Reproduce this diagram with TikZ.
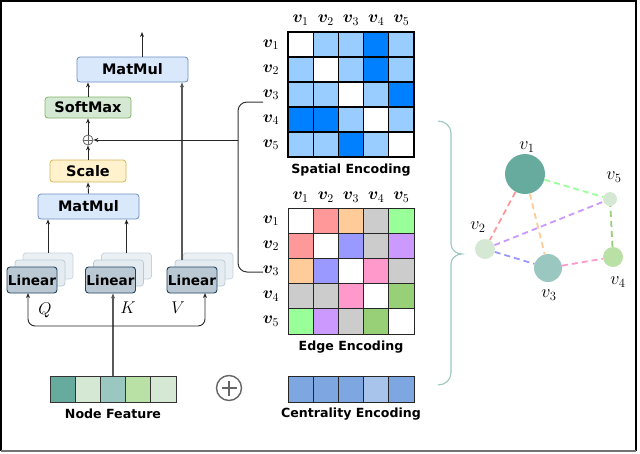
\documentclass[tikz,border=0pt]{standalone}
\usepackage{fix-cm}
\usepackage{fontspec}
\setsansfont{DejaVu Sans}
\usepackage{bm}
\usetikzlibrary{arrows.meta}
\definecolor{cW}{HTML}{FFFFFF}
\definecolor{cL}{HTML}{99CCFF}
\definecolor{cD}{HTML}{007FFF}
\definecolor{cR}{HTML}{FF9999}
\definecolor{cO}{HTML}{FFCC99}
\definecolor{cG}{HTML}{CCCCCC}
\definecolor{cN}{HTML}{99FF99}
\definecolor{cB}{HTML}{9999FF}
\definecolor{cP}{HTML}{CC99FF}
\definecolor{cK}{HTML}{FF99CC}
\definecolor{cE}{HTML}{97D077}
\definecolor{tA}{HTML}{67AB9F}
\definecolor{tB}{HTML}{D5E8D4}
\definecolor{tC}{HTML}{9AC7BF}
\definecolor{tD}{HTML}{B9E0A5}
\definecolor{zA}{HTML}{7EA6E0}
\definecolor{zB}{HTML}{A9C4EB}
\definecolor{bluefill}{HTML}{DAE8FC}
\definecolor{blueline}{HTML}{6C8EBF}
\definecolor{greenfill}{HTML}{D5E8D4}
\definecolor{greenline}{HTML}{82B366}
\definecolor{yelfill}{HTML}{FFF2CC}
\definecolor{yelline}{HTML}{D6B656}
\definecolor{linfill}{HTML}{BAC8D3}
\definecolor{linline}{HTML}{23445D}
\definecolor{linback}{HTML}{EAF0F4}
\definecolor{linbackline}{HTML}{C5D3DD}
\tikzset{
  opbox/.style={draw, rounded corners=3pt, line width=0.8pt, inner sep=0pt,
    font=\sffamily\bfseries\fontsize{14.5}{16}\selectfont},
  linbox/.style={draw=linline, fill=linfill, rounded corners=3pt, line width=0.9pt,
    minimum width=50pt, minimum height=26pt, inner sep=0pt,
    font=\sffamily\bfseries\fontsize{13.6}{15}\selectfont},
  linbk/.style={draw=linbackline, fill=linback, rounded corners=3pt, line width=0.7pt,
    minimum width=50pt, minimum height=26pt, inner sep=0pt},
  arr/.style={draw=black!85, line width=0.9pt, -{Stealth[length=5pt,width=4pt]}},
  thick gray/.style={draw=black!65, line width=1.6pt},
  caption/.style={font=\sffamily\bfseries\fontsize{12.6}{14}\selectfont},
  mlab/.style={font=\fontsize{17}{19}\selectfont, inner sep=0pt},
  glab/.style={font=\fontsize{18}{20}\selectfont, inner sep=0pt},
  gnode/.style={circle, inner sep=0pt},
  gedge/.style={line width=1.8pt, dash pattern=on 6pt off 4pt},
}
\begin{document}
\begin{tikzpicture}[x=1pt,y=-1pt]
\useasboundingbox (0,0) rectangle (640,453);
% frame
\draw[line width=1.3pt, black] (1,451) -- (1,1) -- (636,1) -- (636,451);
\draw[line width=1.6pt, black!55] (1,451) -- (636,451);

% operation boxes
\node[opbox, draw=blueline, fill=bluefill, minimum width=111pt, minimum height=25pt] (mm2) at (132.5,69.5) {MatMul};
\node[opbox, draw=greenline, fill=greenfill, minimum width=86pt, minimum height=21pt] (sm) at (88,107.5) {SoftMax};
\node[circle, draw=black!60, fill=white, line width=0.8pt, minimum size=10pt, inner sep=0pt] (op) at (88,140) {};
\draw[black!60, line width=0.7pt] (op.north) -- (op.south) (op.west) -- (op.east);
\node[opbox, draw=yelline, fill=yelfill, minimum width=76pt, minimum height=22pt] (sc) at (88,171) {Scale};
\node[opbox, draw=blueline, fill=bluefill, minimum width=101pt, minimum height=25pt] (mm1) at (88.5,206.5) {MatMul};

% linear stacks
\node[linbk] (linQb) at (48,266) {};
\node[linbk, draw=linbackline!120, fill=linback!90!linfill] (linQm) at (40,273) {};
\node[linbox] (linQ) at (32,280) {Linear};
\node[linbk] (linKb) at (126.5,266) {};
\node[linbk, draw=linbackline!120, fill=linback!90!linfill] (linKm) at (118.5,273) {};
\node[linbox] (linK) at (110.5,280) {Linear};
\node[linbk] (linVb) at (208,266) {};
\node[linbk, draw=linbackline!120, fill=linback!90!linfill] (linVm) at (200,273) {};
\node[linbox] (linV) at (192,280) {Linear};

\node[mlab] (lq) at (45,310) {$Q$};
\node[mlab] (lk) at (128,308) {$K$};
\node[mlab] (lv) at (178,308) {$V$};

% arrows in attention block
\coordinate (outtop) at (142,32);
\draw[arr] (mm2.north -| outtop) -- (outtop);
\draw[arr] (sm.north) -- (sm.north |- mm2.south);
\draw[arr] (op.north) -- (sm.south);
\draw[arr] (sc.north) -- (op.south);
\draw[arr] (mm1.north) -- (sc.south);
\draw[arr] (linQb.north) -- (linQb.north |- mm1.south);
\draw[arr] (linKb.north) -- (linKb.north |- mm1.south);
\coordinate (vx) at (182,260);
\draw[thick gray, -{Stealth[length=5pt,width=4pt]}] (vx) -- (vx |- mm2.south);

% left brace from encodings
\coordinate (bt) at (263,102);
\coordinate (bb) at (263,272);
\draw[black!80, line width=1pt, rounded corners=9pt] (bt) -- (238,102) -- (238,272) -- (bb);
\coordinate (bm) at (238,140);
\draw[arr] (bm) -- (op.east);

% node feature & branches
\node[minimum width=126pt, minimum height=26pt, inner sep=0pt] (nf) at (113,389) {};
\foreach \c [count=\k] in {tA,tB,tC,tD,tB} {
  \filldraw[fill=\c, draw=black!80, line width=0.8pt] ({50+(\k-1)*25.2},376) rectangle ++(25.2,26);
}
\node[caption] (nfl) at (113,414) {Node Feature};
\coordinate (br) at (113,326);
\draw[thick gray, -{Stealth[length=5pt,width=4pt]}] (nf.north) -- (nf.north |- linK.south);
\draw[arr, rounded corners=7pt] (br) -| (28,293);
\draw[arr, rounded corners=7pt] (br) -| (205,293);

% big oplus
\node[circle, draw=black!60, line width=1.4pt, minimum size=25pt, inner sep=0pt] (bigop) at (229,388) {};
\draw[black!60, line width=1.4pt] ([yshift=-7.5pt]bigop.center) -- ([yshift=7.5pt]bigop.center)
  ([xshift=-7.5pt]bigop.center) -- ([xshift=7.5pt]bigop.center);

% centrality
\node[minimum width=126pt, minimum height=26pt, inner sep=0pt] (ce) at (351,389) {};
\foreach \c [count=\k] in {zA,zA,zA,zB,zA} {
  \filldraw[fill=\c, draw=black!85, line width=0.8pt] ({288+(\k-1)*25.2},376) rectangle ++(25.2,26);
}
\node[caption] (cel) at (351,414) {Centrality Encoding};

% spatial matrix
\foreach \row [count=\r] in {{cW,cL,cL,cD,cL},{cL,cW,cL,cD,cL},{cL,cL,cW,cL,cD},{cD,cD,cL,cW,cL},{cL,cL,cD,cL,cW}} {
  \foreach \c [count=\k] in \row {
    \filldraw[fill=\c, draw=black, line width=1.1pt] ({288+(\k-1)*25.2},{32+(\r-1)*25}) rectangle ++(25.2,25);
  }
}
\foreach \i in {1,...,5} {
  \node[mlab] (sc\i) at ({288+12.6+(\i-1)*25.2},20) {$\bm{v}_{\i}$};
  \node[mlab] (sr\i) at (271,{44.5+(\i-1)*25}) {$\bm{v}_{\i}$};
}
\node[caption] (spl) at (351,170) {Spatial Encoding};

% edge matrix
\foreach \row [count=\r] in {{cW,cR,cO,cG,cN},{cR,cW,cB,cG,cP},{cO,cB,cW,cK,cG},{cG,cG,cK,cW,cE},{cN,cP,cG,cE,cW}} {
  \foreach \c [count=\k] in \row {
    \filldraw[fill=\c, draw=black!85, line width=0.9pt] ({288+(\k-1)*25.2},{208+(\r-1)*25.2}) rectangle ++(25.2,25.2);
  }
}
\foreach \i in {1,...,5} {
  \node[mlab] (ec\i) at ({288+12.6+(\i-1)*25.2},197) {$\bm{v}_{\i}$};
  \node[mlab] (er\i) at (271,{220.5+(\i-1)*25.2}) {$\bm{v}_{\i}$};
}
\node[caption] (edl) at (351,347) {Edge Encoding};

% right brace
\draw[tC, line width=1.1pt] (438,121) to[out=0,in=90] (451,133) -- (451,244)
  to[out=-90,in=180] (462,254) to[out=180,in=90] (451,264) -- (451,373)
  to[out=-90,in=0] (438,385);

% graph
\node[gnode, fill=tA, minimum size=40pt] (g1) at (525,174) {};
\node[gnode, fill=tB, minimum size=20pt] (g2) at (485,249) {};
\node[gnode, fill=tC, minimum size=28pt] (g3) at (548,268) {};
\node[gnode, fill=tD, minimum size=20pt] (g4) at (613,257) {};
\node[gnode, fill=tB, minimum size=14pt] (g5) at (610,199) {};
\draw[gedge, cR] (g1) -- (g2);
\draw[gedge, cO] (g1) -- (g3);
\draw[gedge, cN] (g1) -- (g5);
\draw[gedge, cB] (g2) -- (g3);
\draw[gedge, cP] (g2) -- (g5);
\draw[gedge, cK] (g3) -- (g4);
\draw[gedge, cE] (g4) -- (g5);
\node[glab] (gl1) at (527,147) {$v_1$};
\node[glab] (gl2) at (478,227) {$v_2$};
\node[glab] (gl3) at (549,295) {$v_3$};
\node[glab] (gl4) at (618,282) {$v_4$};
\node[glab] (gl5) at (614,177) {$v_5$};
\end{tikzpicture}
\end{document}
